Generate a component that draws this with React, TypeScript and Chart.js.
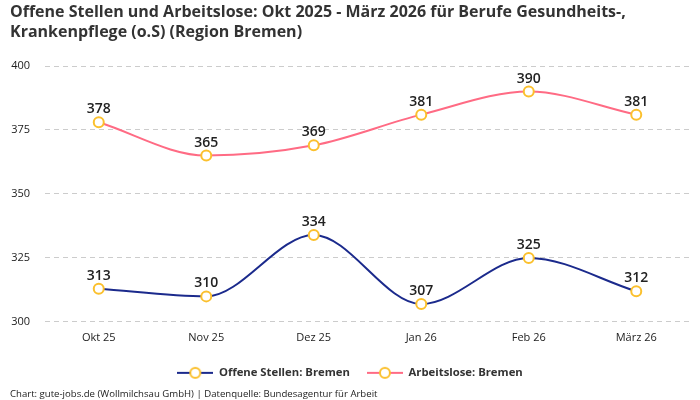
import React, { useEffect, useRef } from "react";
import { Chart, registerables } from "chart.js";

Chart.register(...registerables);

const months = ["Okt 25", "Nov 25", "Dez 25", "Jan 26", "Feb 26", "März 26"];
const offeneStellen = [313, 310, 334, 307, 325, 312];
const arbeitslose = [378, 365, 369, 381, 390, 381];
const yTicks = [300, 325, 350, 375, 400];

const FONT = "'Open Sans', 'Noto Sans', sans-serif";
const BLUE = "#1b2a8c";
const PINK = "#ff6b84";
const POINT = "#fbc02d";

// legend symbol: short line with a ring in the middle
const legendIcon = (color: string) => {
  const c = document.createElement("canvas");
  c.width = 36;
  c.height = 14;
  const ctx = c.getContext("2d")!;
  ctx.strokeStyle = color;
  ctx.lineWidth = 2;
  ctx.beginPath();
  ctx.moveTo(0, 7);
  ctx.lineTo(36, 7);
  ctx.stroke();
  ctx.fillStyle = "#fff";
  ctx.strokeStyle = POINT;
  ctx.beginPath();
  ctx.arc(18, 7, 5, 0, Math.PI * 2);
  ctx.fill();
  ctx.stroke();
  return c;
};

const valueLabels = {
  id: "valueLabels",
  afterDatasetsDraw(chart: any) {
    const ctx = chart.ctx;
    ctx.save();
    ctx.font = `600 14px ${FONT}`;
    ctx.fillStyle = "#222";
    ctx.textAlign = "center";
    ctx.textBaseline = "bottom";
    chart.data.datasets.forEach((ds: any, i: number) => {
      chart.getDatasetMeta(i).data.forEach((pt: any, j: number) => {
        ctx.fillText(String(ds.data[j]), pt.x, pt.y - 6);
      });
    });
    ctx.restore();
  },
};

const App = () => {
  const chartRef = useRef<HTMLCanvasElement>(null);

  useEffect(() => {
    document.body.style.margin = "0";
    const ctx = chartRef.current?.getContext("2d");
    if (!ctx) return;

    const common = {
      borderWidth: 2,
      pointRadius: 5,
      pointHoverRadius: 5,
      pointBackgroundColor: "#fff",
      pointBorderColor: POINT,
      pointBorderWidth: 2,
      cubicInterpolationMode: "monotone" as const,
      fill: false,
    };

    const chart = new Chart(ctx, {
      type: "line",
      data: {
        labels: months,
        datasets: [
          { label: "Offene Stellen: Bremen", data: offeneStellen, borderColor: BLUE, ...common },
          { label: "Arbeitslose: Bremen", data: arbeitslose, borderColor: PINK, ...common },
        ],
      },
      options: {
        animation: false,
        responsive: false,
        layout: { padding: { left: 10, right: 10, top: 2, bottom: 0 } },
        scales: {
          x: {
            offset: true,
            grid: { display: false, drawTicks: false },
            border: { display: false },
            ticks: { color: "#222", font: { family: FONT, size: 11 }, padding: 9 },
            afterFit: (axis: any) => {
              axis.height -= 3;
            },
          },
          y: {
            min: 300,
            max: 400,
            afterBuildTicks: (axis: any) => {
              axis.ticks = yTicks.map((v) => ({ value: v }));
            },
            afterFit: (axis: any) => {
              axis.width = 35;
            },
            grid: { color: "#cccccc", drawTicks: false },
            border: { display: false, dash: [5, 4] },
            ticks: { color: "#222", font: { family: FONT, size: 11 }, padding: 15 },
          },
        },
        plugins: {
          title: {
            display: true,
            text: [
              "Offene Stellen und Arbeitslose: Okt 2025 - März 2026 für Berufe Gesundheits-,",
              "Krankenpflege (o.S) (Region Bremen)",
            ],
            align: "start",
            color: "#333",
            font: { family: FONT, size: 16, weight: "bold", lineHeight: 1.25 },
            padding: { top: 0, bottom: 24 },
          },
          subtitle: {
            display: true,
            position: "bottom",
            align: "start",
            text: "Chart: gute-jobs.de (Wollmilchsau GmbH) | Datenquelle: Bundesagentur für Arbeit",
            color: "#222",
            font: { family: FONT, size: 9.6 },
            padding: { top: 0, bottom: 0 },
          },
          legend: {
            position: "bottom",
            labels: {
              usePointStyle: true,
              pointStyleWidth: 36,
              color: "#333",
              font: { family: FONT, size: 11.3, weight: "bold" },
              padding: 17,
              generateLabels: (ch: any) =>
                ch.data.datasets.map((ds: any, i: number) => ({
                  text: ds.label,
                  pointStyle: legendIcon(ds.borderColor),
                  datasetIndex: i,
                  fontColor: "#333",
                  lineWidth: 0,
                  strokeStyle: "transparent",
                  fillStyle: "transparent",
                })),
            },
          },
          tooltip: { enabled: false },
        },
      },
      plugins: [valueLabels],
    });

    return () => chart.destroy();
  }, []);

  return (
    <div style={{ width: 700, height: 400 }}>
      <canvas ref={chartRef} width={700} height={400} />
    </div>
  );
};

export default App;
